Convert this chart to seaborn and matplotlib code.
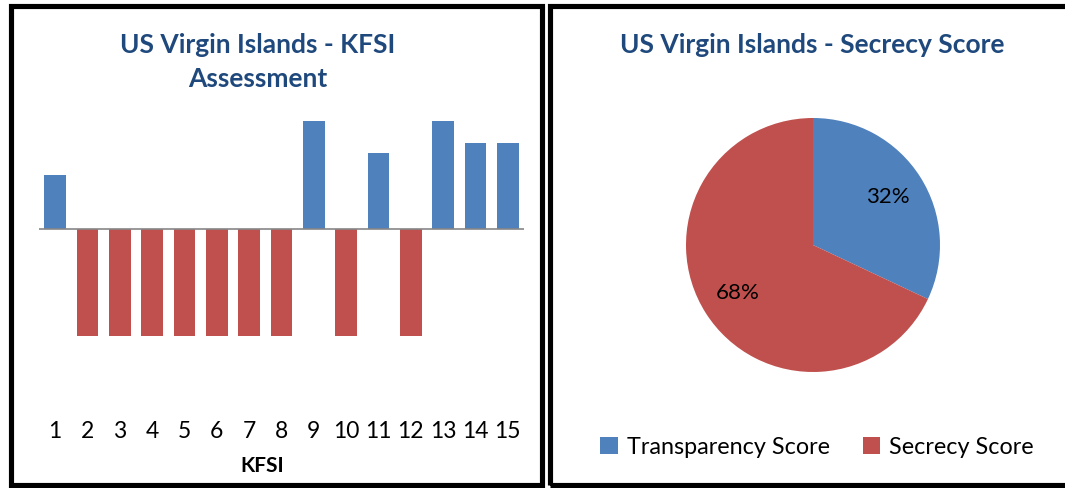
import pandas as pd
import matplotlib.pyplot as plt
from matplotlib.patches import Rectangle, Patch
import seaborn as sns

# dados
kfsi = [str(i) for i in range(1, 16)]
avaliacao = [0.5, -1, -1, -1, -1, -1, -1, -1, 1, -1, 0.7, -1, 1, 0.8, 0.8]
pie_labels = ['Transparency Score', 'Secrecy Score']
pie_values = [32, 68]

azul = '#4F81BD'
vermelho = '#C0504D'
titulo_cor = '#1F497D'

plt.rcParams['font.family'] = ['Lato', 'DejaVu Sans']

W, H = 1065, 488
fig = plt.figure(figsize=(W / 100, H / 100), dpi=100, facecolor='white')


def px(x0, y0, x1, y1):
    # pixel box (top-left origin) -> figure coords
    return [x0 / W, 1 - y1 / H, (x1 - x0) / W, (y1 - y0) / H]


# molduras dos dois quadros
for x0, x1 in [(10.5, 541.5), (549.5, 1075)]:
    fig.add_artist(Rectangle((x0 / W, 1 - 485 / H), (x1 - x0) / W, (485 - 5.5) / H,
                             transform=fig.transFigure, fill=False,
                             edgecolor='black', lw=3.7))

# --- KFSI Assessment ---
df = pd.DataFrame({'kfsi': kfsi, 'valor': avaliacao})
df['sinal'] = ['pos' if v > 0 else 'neg' for v in df['valor']]

ax = fig.add_axes(px(39, 121, 524, 336))
sns.barplot(data=df, x='kfsi', y='valor', hue='sinal', dodge=False,
            palette={'pos': azul, 'neg': vermelho}, width=0.68,
            legend=False, ax=ax, saturation=1)
ax.axhline(0, color='#868686', lw=1.2)
ax.set_ylim(-1, 1)
ax.set_xlim(-0.5, 14.5)
ax.set_yticks([])
ax.set_ylabel('')
ax.set_xlabel('')
for s in ax.spines.values():
    s.set_visible(False)
ax.tick_params(axis='x', length=0, pad=61, labelsize=16.5)
fig.text(262 / W, 1 - 466 / H, 'KFSI', ha='center', va='center',
         fontsize=15, fontweight='bold')
fig.text(258 / W, 1 - 62 / H, 'US Virgin Islands - KFSI\nAssessment',
         ha='center', va='center', fontsize=19, fontweight='bold',
         color=titulo_cor, linespacing=1.5)

# --- Secrecy Score ---
ax2 = fig.add_axes(px(686, 118, 940, 372))
ax2.pie(pie_values, colors=[azul, vermelho], startangle=90,
        counterclock=False, autopct='%1.0f%%', pctdistance=0.7,
        textprops={'fontsize': 16})
ax2.set_xlim(-1, 1)
ax2.set_ylim(-1, 1)
fig.text(812 / W, 1 - 45 / H, 'US Virgin Islands - Secrecy Score',
         ha='center', va='center', fontsize=19, fontweight='bold',
         color=titulo_cor)

handles = [Patch(facecolor=c) for c in [azul, vermelho]]
fig.legend(handles, pie_labels, loc='center', bbox_to_anchor=(817 / W, 1 - 447 / H),
           ncol=2, frameon=False, fontsize=16.8, handlelength=0.75, handleheight=0.75,
           handletextpad=0.4, columnspacing=1.4)

fig.savefig('out.png', dpi=100, facecolor='white')
